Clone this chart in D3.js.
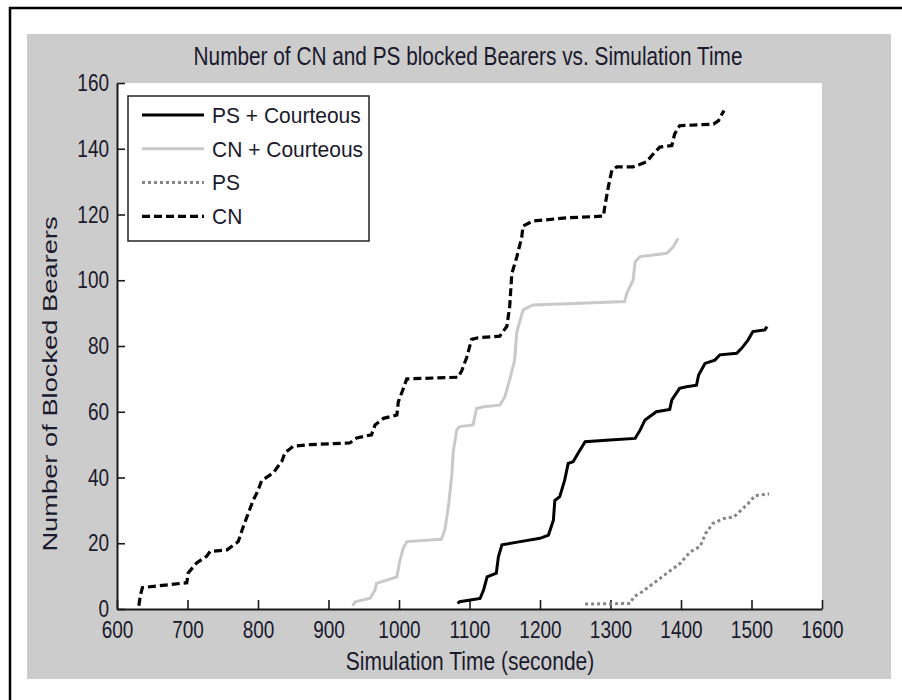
<!DOCTYPE html>
<html>
<head>
<meta charset="utf-8">
<script src="https://cdn.jsdelivr.net/npm/d3@7"></script>
<style>
  body { margin: 0; background: #fff; }
  svg { display: block; font-family: "Liberation Sans", Arial, sans-serif; }
</style>
</head>
<body>
<div id="app"></div>
<script>
// [simulation time (s), blocked bearers]
const psCourteous = [[1083,1.7],[1086,2.2],[1115,3.2],[1120,5.8],[1125,9.8],[1138,10.9],[1141,15.9],[1146,19.5],[1172,20.5],[1200,21.5],[1212,22.5],[1219,27],[1221,33],[1228,34.2],[1235,39.2],[1240,44.3],[1247,44.8],[1254,47.4],[1264,50.9],[1299,51.4],[1335,51.9],[1342,54.4],[1349,57.5],[1365,60],[1384,60.7],[1387,63.6],[1398,67.1],[1408,67.6],[1422,68.1],[1425,71.2],[1434,74.7],[1448,75.7],[1455,77.3],[1479,77.8],[1486,79.3],[1495,81.8],[1502,84.4],[1519,84.9],[1522,85.9]]
const cnCourteous = [[934,1],[938,2.2],[959,3.3],[966,5.8],[968,7.8],[983,8.8],[997,9.8],[1001,14.5],[1006,18.5],[1011,20.5],[1060,21.2],[1065,24],[1070,31],[1075,41],[1077,48],[1082,54.5],[1086,55.5],[1105,56],[1110,61],[1120,61.5],[1143,62],[1150,64.5],[1157,69.7],[1164,75.7],[1167,84],[1172,88],[1176,91],[1190,92.5],[1257,93],[1320,93.5],[1323,96],[1332,100],[1335,105.6],[1342,107.2],[1380,108.2],[1389,110.2],[1396,112.8]]
const ps = [[1264,1.5],[1328,1.7],[1333,3.7],[1342,4.8],[1361,7.8],[1380,10.9],[1399,13.9],[1413,17.4],[1427,19],[1435,23],[1445,26],[1460,27.5],[1475,28],[1485,30],[1495,32],[1505,34.5],[1525,35]]
const cn = [[631,1],[633,4],[636,6.5],[699,8],[701,11],[713,14],[727,16],[732,17.5],[756,18],[772,20.5],[779,25],[786,29],[793,33],[800,36],[805,39],[822,41.5],[834,45],[838,47.5],[850,49.5],[874,50],[930,50.5],[940,52],[961,53],[966,56],[978,58],[997,59],[999,63],[1006,67],[1011,70],[1084,70.5],[1089,72.5],[1096,76.5],[1103,82],[1112,82.5],[1143,83],[1148,84.5],[1153,86],[1157,92],[1160,102],[1167,107],[1174,113],[1176,116.5],[1190,118],[1238,119],[1290,119.5],[1292,122.5],[1297,128.5],[1302,133.5],[1309,134.5],[1332,134.5],[1351,136],[1363,139],[1370,140.5],[1387,141],[1391,144.5],[1398,147],[1446,147.5],[1453,148.5],[1458,150.5],[1461,151.6]]

const seriesNames = ['PS + Courteous', 'CN + Courteous', 'PS', 'CN']
const seriesData = [psCourteous, cnCourteous, ps, cn]
const xTicks = [600, 700, 800, 900, 1000, 1100, 1200, 1300, 1400, 1500, 1600]
const yTicks = [0, 20, 40, 60, 80, 100, 120, 140, 160]

const styles = [
  { stroke: '#000', width: 3, dash: null },
  { stroke: '#c9c9c9', width: 3, dash: null },
  { stroke: '#858585', width: 3, dash: '3,3' },
  { stroke: '#000', width: 3.2, dash: '8,4' }
]
const textColor = '#1a1a2c'

const W = 902, H = 700
const plot = { left: 117, right: 822, top: 83, bottom: 609 }

const svg = d3.select('#app').append('svg')
  .attr('width', W)
  .attr('height', H)

// outer frame + grey figure background
svg.append('rect')
  .attr('x', 10).attr('y', 8).attr('width', 920).attr('height', 720)
  .attr('fill', '#fff').attr('stroke', '#000').attr('stroke-width', 2.5)
svg.append('rect')
  .attr('x', 27).attr('y', 34).attr('width', 864).attr('height', 645)
  .attr('fill', '#cccccc')
svg.append('rect')
  .attr('x', plot.left).attr('y', plot.top)
  .attr('width', plot.right - plot.left).attr('height', plot.bottom - plot.top)
  .attr('fill', '#fff')

const x = d3.scaleLinear().domain([600, 1600]).range([plot.left, plot.right])
const y = d3.scaleLinear().domain([0, 160]).range([plot.bottom, plot.top])

// axes, ticks pointing inward
const xAxis = svg.append('g')
  .attr('transform', `translate(0,${plot.bottom})`)
  .call(d3.axisBottom(x).tickValues(xTicks).tickSizeInner(-9).tickSizeOuter(0).tickFormat(d3.format('d')))
const yAxis = svg.append('g')
  .attr('transform', `translate(${plot.left},0)`)
  .call(d3.axisLeft(y).tickValues(yTicks).tickSizeInner(-8).tickSizeOuter(0).tickPadding(8))

;[xAxis, yAxis].forEach(g => {
  g.select('.domain').attr('stroke', '#1a1a1a').attr('stroke-width', 2)
  g.selectAll('.tick line').attr('stroke', '#1a1a1a').attr('stroke-width', 1.6)
  g.selectAll('.tick text')
    .attr('fill', textColor)
    .attr('font-size', 19)
    .attr('font-family', '"Liberation Sans", Arial, sans-serif')
})
xAxis.selectAll('.tick text')
  .attr('y', 10)
  .attr('transform', 'scale(1,1.24)')
yAxis.selectAll('.tick text')
  .attr('transform', 'scale(1,1.24)')

// curves
const line = d3.line().x(d => x(d[0])).y(d => y(d[1]))
svg.append('g').selectAll('path')
  .data(seriesData)
  .join('path')
  .attr('d', line)
  .attr('fill', 'none')
  .attr('stroke', (d, i) => styles[i].stroke)
  .attr('stroke-width', (d, i) => styles[i].width)
  .attr('stroke-dasharray', (d, i) => styles[i].dash)
  .attr('stroke-linejoin', 'miter')

// titles
function stretchedText(tx, ty, rot, sx, sy, str, size) {
  return svg.append('text')
    .attr('transform', `translate(${tx},${ty}) rotate(${rot}) scale(${sx},${sy})`)
    .attr('text-anchor', 'middle')
    .attr('fill', textColor)
    .attr('font-size', size)
    .text(str)
}
stretchedText(468, 65, 0, 1, 1.21, 'Number of CN and PS blocked Bearers vs. Simulation Time', 20.8)
stretchedText(470, 670, 0, 1, 1.2, 'Simulation Time (seconde)', 21)
stretchedText(57, 384, -90, 1.3, 1, 'Number of Blocked Bearers', 21)

// legend
const legend = svg.append('g')
legend.append('rect')
  .attr('x', 128).attr('y', 96).attr('width', 241).attr('height', 145)
  .attr('fill', '#fff').attr('stroke', '#222').attr('stroke-width', 1.5)
const rows = legend.selectAll('g.row')
  .data(seriesNames)
  .join('g')
  .attr('class', 'row')
  .attr('transform', (d, i) => `translate(0,${115 + i * 33.8})`)
rows.append('line')
  .attr('x1', 142).attr('x2', 204)
  .attr('stroke', (d, i) => styles[i].stroke)
  .attr('stroke-width', (d, i) => styles[i].width)
  .attr('stroke-dasharray', (d, i) => styles[i].dash)
rows.append('text')
  .attr('transform', 'translate(212,0) scale(1,1.05)')
  .attr('dy', '0.35em')
  .attr('fill', textColor)
  .attr('font-size', 21)
  .text(d => d)
</script>
</body>
</html>
